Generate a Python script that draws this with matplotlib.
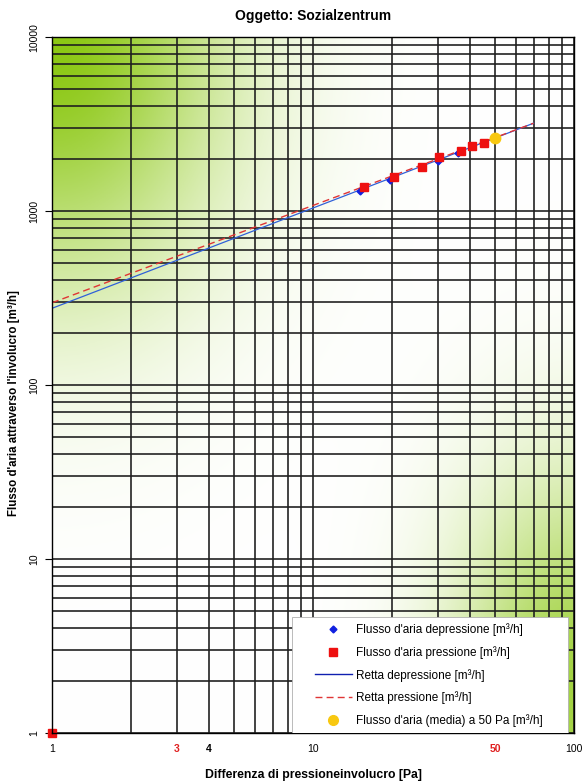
import numpy as np
import matplotlib
matplotlib.use('agg')
import matplotlib.pyplot as plt
from matplotlib.patches import Rectangle
from matplotlib.ticker import FixedLocator, NullFormatter, LogLocator

plt.rcParams['font.family'] = ['Liberation Sans', 'DejaVu Sans']

# measured points (pressure difference [Pa], air flow [m3/h])
dep_x = [15.1, 19.7, 30.0, 35.9]
dep_y = [1310, 1505, 1930, 2165]
pre_x = [1, 15.7, 20.4, 26.1, 30.4, 36.8, 40.6, 45.0]
pre_y = [1, 1380, 1575, 1800, 2035, 2220, 2365, 2470]
# fitted lines (end points)
line_dep_x = [1, 70]
line_dep_y = [276, 3200]
line_pre_x = [1, 70]
line_pre_y = [297, 3200]
# mean value at 50 Pa
avg_x = [50]
avg_y = [2620]

xtick_vals = [1, 3, 4, 10, 50, 100]
xtick_labels = ['1', '3', '4', '10', '50', '100']
ytick_vals = [1, 10, 100, 1000, 10000]

fig = plt.figure(figsize=(5.84, 7.81), dpi=100)
ax = fig.add_axes([0.089, 0.0615, 0.894, 0.891])
ax.set_xscale('log')
ax.set_yscale('log')
ax.set_xlim(1, 100)
ax.set_ylim(1, 10000)

# green gradient background (pixel units of the plot area)
W, H = 522, 696
px, py = np.meshgrid(np.linspace(0, W, 261), np.linspace(H, 0, 348))
t1 = np.exp(-((px / 175.0) ** 2 + ((H - py) / 245.0) ** 2))
t2 = 0.8 * np.exp(-(((W - px) / 120.0) ** 2 + ((py - 40) / 215.0) ** 2))
t = 1 - (1 - t1) * (1 - t2)
green = np.array([140, 200, 20]) / 255.0
img = 1 - t[..., None] * (1 - green)
ax.imshow(img, extent=[0, 1, 0, 1], transform=ax.transAxes, aspect='auto', zorder=0)

# grid
ax.xaxis.set_minor_locator(LogLocator(base=10, subs=np.arange(2, 10)))
ax.yaxis.set_minor_locator(LogLocator(base=10, subs=np.arange(2, 10)))
ax.grid(True, which='both', color='#1e1e1e', linewidth=1.3, alpha=0.9, zorder=1)
ax.set_axisbelow(False)

ax.plot(line_dep_x, line_dep_y, color='#3060d8', linewidth=0.9, zorder=3)
ax.plot(line_pre_x, line_pre_y, color='#e03535', linewidth=1.0, dashes=(5, 3), zorder=3)
ax.plot(dep_x, dep_y, linestyle='none', marker='D', markersize=3.5, color='#1020e0', zorder=4)
ax.plot(pre_x, pre_y, linestyle='none', marker='s', markersize=5.5, color='#ee1010',
        zorder=5, clip_on=False)
ax.plot(avg_x, avg_y, linestyle='none', marker='o', markersize=7.5, color='#f8c810', zorder=6)

# legend box + entries
ax.add_patch(Rectangle((0.460, 0.0), 0.5285, 0.167, transform=ax.transAxes,
                       facecolor='white', edgecolor='#b0b0b0', linewidth=0.6, zorder=9))
h1, = ax.plot([], [], linestyle='none', marker='D', markersize=3.5, color='#1020e0')
h2, = ax.plot([], [], linestyle='none', marker='s', markersize=5.5, color='#ee1010')
h3, = ax.plot([], [], color='#1020b0', linewidth=1.0)
h4, = ax.plot([], [], color='#e03535', linewidth=1.0, dashes=(5, 3))
h5, = ax.plot([], [], linestyle='none', marker='o', markersize=7, color='#f8c810')
leg = ax.legend([h1, h2, h3, h4, h5],
                ["Flusso d'aria depressione [m³/h]", "Flusso d'aria pressione [m³/h]",
                 "Retta depressione [m³/h]", "Retta pressione [m³/h]",
                 "Flusso d'aria (media) a 50 Pa [m³/h]"],
                loc='center left', bbox_to_anchor=(0.504, 0.083), fontsize=8.5,
                handlelength=3.1, handletextpad=0.4, labelspacing=0.85,
                borderpad=0, borderaxespad=0, frameon=False)
leg.set_zorder(10)

# ticks
ax.xaxis.set_major_locator(FixedLocator(xtick_vals))
ax.set_xticklabels(xtick_labels)
ax.xaxis.set_minor_formatter(NullFormatter())
ax.tick_params(axis='x', which='both', length=0, labelsize=7.5, pad=8)
for lab in ax.get_xticklabels():
    txt = lab.get_text()
    if txt in ('3', '50'):
        lab.set_color('#e02020')
        lab.set_fontweight('bold')
    elif txt == '4':
        lab.set_fontweight('bold')
ax.yaxis.set_major_locator(FixedLocator(ytick_vals))
ax.set_yticklabels([str(v) for v in ytick_vals], rotation=90, va='center')
ax.yaxis.set_minor_formatter(NullFormatter())
ax.tick_params(axis='y', which='major', length=5, width=0.8, labelsize=7.5, pad=4)
ax.tick_params(axis='y', which='minor', length=0)

for s in ax.spines.values():
    s.set_color('black')
    s.set_linewidth(1.0)
    s.set_zorder(8)

ax.set_title('Oggetto: Sozialzentrum', fontsize=10, fontweight='bold', pad=12)
ax.set_xlabel('Differenza di pressioneinvolucro [Pa]', fontsize=8.8, fontweight='bold')
ax.xaxis.set_label_coords(0.5, -0.052)
ax.set_ylabel("Flusso d'aria attraverso l'involucro [m³/h]", fontsize=8.3, fontweight='bold')
ax.yaxis.set_label_coords(-0.062, 0.474)

fig.savefig('out.png', dpi=100)
